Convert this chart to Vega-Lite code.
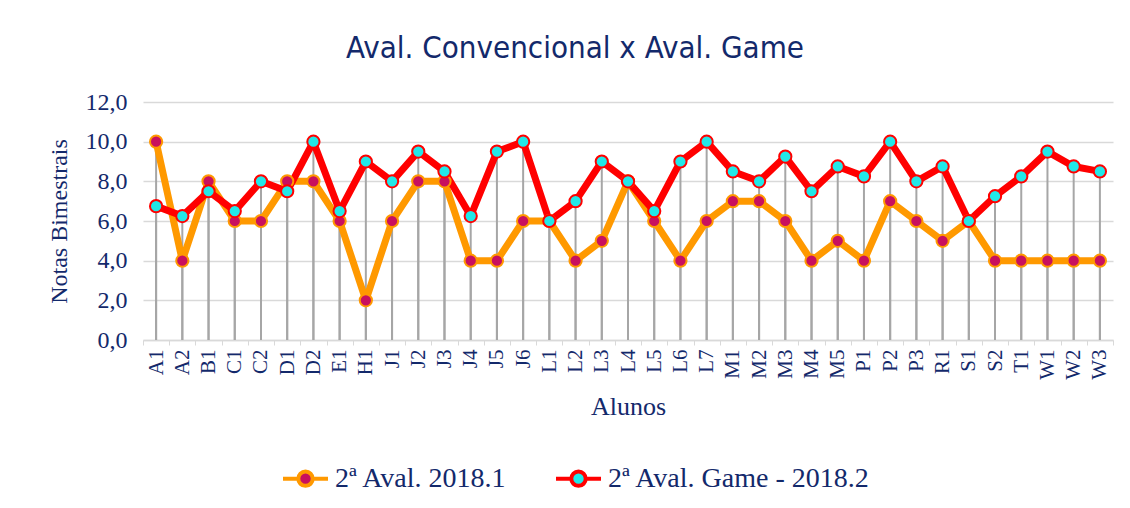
{
  "$schema": "https://vega.github.io/schema/vega-lite/v6.json",
  "width": 970,
  "height": 238,
  "autosize": {"type": "none"},
  "padding": {"left": 143, "top": 102, "right": 17, "bottom": 168},
  "background": "white",
  "title": {"text": "Aval. Convencional x Aval. Game", "font": "DejaVu Sans Condensed", "fontSize": 31, "fontWeight": "normal", "color": "#13296B", "anchor": "middle", "offset": 25, "dx": -53},
  "datasets": {
    "notas": [
      {"aluno": "A1", "serie": "2ª Aval. 2018.1", "nota": 10},
      {"aluno": "A2", "serie": "2ª Aval. 2018.1", "nota": 4},
      {"aluno": "B1", "serie": "2ª Aval. 2018.1", "nota": 8},
      {"aluno": "C1", "serie": "2ª Aval. 2018.1", "nota": 6},
      {"aluno": "C2", "serie": "2ª Aval. 2018.1", "nota": 6},
      {"aluno": "D1", "serie": "2ª Aval. 2018.1", "nota": 8},
      {"aluno": "D2", "serie": "2ª Aval. 2018.1", "nota": 8},
      {"aluno": "E1", "serie": "2ª Aval. 2018.1", "nota": 6},
      {"aluno": "H1", "serie": "2ª Aval. 2018.1", "nota": 2},
      {"aluno": "J1", "serie": "2ª Aval. 2018.1", "nota": 6},
      {"aluno": "J2", "serie": "2ª Aval. 2018.1", "nota": 8},
      {"aluno": "J3", "serie": "2ª Aval. 2018.1", "nota": 8},
      {"aluno": "J4", "serie": "2ª Aval. 2018.1", "nota": 4},
      {"aluno": "J5", "serie": "2ª Aval. 2018.1", "nota": 4},
      {"aluno": "J6", "serie": "2ª Aval. 2018.1", "nota": 6},
      {"aluno": "L1", "serie": "2ª Aval. 2018.1", "nota": 6},
      {"aluno": "L2", "serie": "2ª Aval. 2018.1", "nota": 4},
      {"aluno": "L3", "serie": "2ª Aval. 2018.1", "nota": 5},
      {"aluno": "L4", "serie": "2ª Aval. 2018.1", "nota": 8},
      {"aluno": "L5", "serie": "2ª Aval. 2018.1", "nota": 6},
      {"aluno": "L6", "serie": "2ª Aval. 2018.1", "nota": 4},
      {"aluno": "L7", "serie": "2ª Aval. 2018.1", "nota": 6},
      {"aluno": "M1", "serie": "2ª Aval. 2018.1", "nota": 7},
      {"aluno": "M2", "serie": "2ª Aval. 2018.1", "nota": 7},
      {"aluno": "M3", "serie": "2ª Aval. 2018.1", "nota": 6},
      {"aluno": "M4", "serie": "2ª Aval. 2018.1", "nota": 4},
      {"aluno": "M5", "serie": "2ª Aval. 2018.1", "nota": 5},
      {"aluno": "P1", "serie": "2ª Aval. 2018.1", "nota": 4},
      {"aluno": "P2", "serie": "2ª Aval. 2018.1", "nota": 7},
      {"aluno": "P3", "serie": "2ª Aval. 2018.1", "nota": 6},
      {"aluno": "R1", "serie": "2ª Aval. 2018.1", "nota": 5},
      {"aluno": "S1", "serie": "2ª Aval. 2018.1", "nota": 6},
      {"aluno": "S2", "serie": "2ª Aval. 2018.1", "nota": 4},
      {"aluno": "T1", "serie": "2ª Aval. 2018.1", "nota": 4},
      {"aluno": "W1", "serie": "2ª Aval. 2018.1", "nota": 4},
      {"aluno": "W2", "serie": "2ª Aval. 2018.1", "nota": 4},
      {"aluno": "W3", "serie": "2ª Aval. 2018.1", "nota": 4},
      {"aluno": "A1", "serie": "2ª Aval. Game - 2018.2", "nota": 6.75},
      {"aluno": "A2", "serie": "2ª Aval. Game - 2018.2", "nota": 6.25},
      {"aluno": "B1", "serie": "2ª Aval. Game - 2018.2", "nota": 7.5},
      {"aluno": "C1", "serie": "2ª Aval. Game - 2018.2", "nota": 6.5},
      {"aluno": "C2", "serie": "2ª Aval. Game - 2018.2", "nota": 8},
      {"aluno": "D1", "serie": "2ª Aval. Game - 2018.2", "nota": 7.5},
      {"aluno": "D2", "serie": "2ª Aval. Game - 2018.2", "nota": 10},
      {"aluno": "E1", "serie": "2ª Aval. Game - 2018.2", "nota": 6.5},
      {"aluno": "H1", "serie": "2ª Aval. Game - 2018.2", "nota": 9},
      {"aluno": "J1", "serie": "2ª Aval. Game - 2018.2", "nota": 8},
      {"aluno": "J2", "serie": "2ª Aval. Game - 2018.2", "nota": 9.5},
      {"aluno": "J3", "serie": "2ª Aval. Game - 2018.2", "nota": 8.5},
      {"aluno": "J4", "serie": "2ª Aval. Game - 2018.2", "nota": 6.25},
      {"aluno": "J5", "serie": "2ª Aval. Game - 2018.2", "nota": 9.5},
      {"aluno": "J6", "serie": "2ª Aval. Game - 2018.2", "nota": 10},
      {"aluno": "L1", "serie": "2ª Aval. Game - 2018.2", "nota": 6},
      {"aluno": "L2", "serie": "2ª Aval. Game - 2018.2", "nota": 7},
      {"aluno": "L3", "serie": "2ª Aval. Game - 2018.2", "nota": 9},
      {"aluno": "L4", "serie": "2ª Aval. Game - 2018.2", "nota": 8},
      {"aluno": "L5", "serie": "2ª Aval. Game - 2018.2", "nota": 6.5},
      {"aluno": "L6", "serie": "2ª Aval. Game - 2018.2", "nota": 9},
      {"aluno": "L7", "serie": "2ª Aval. Game - 2018.2", "nota": 10},
      {"aluno": "M1", "serie": "2ª Aval. Game - 2018.2", "nota": 8.5},
      {"aluno": "M2", "serie": "2ª Aval. Game - 2018.2", "nota": 8},
      {"aluno": "M3", "serie": "2ª Aval. Game - 2018.2", "nota": 9.25},
      {"aluno": "M4", "serie": "2ª Aval. Game - 2018.2", "nota": 7.5},
      {"aluno": "M5", "serie": "2ª Aval. Game - 2018.2", "nota": 8.75},
      {"aluno": "P1", "serie": "2ª Aval. Game - 2018.2", "nota": 8.25},
      {"aluno": "P2", "serie": "2ª Aval. Game - 2018.2", "nota": 10},
      {"aluno": "P3", "serie": "2ª Aval. Game - 2018.2", "nota": 8},
      {"aluno": "R1", "serie": "2ª Aval. Game - 2018.2", "nota": 8.75},
      {"aluno": "S1", "serie": "2ª Aval. Game - 2018.2", "nota": 6},
      {"aluno": "S2", "serie": "2ª Aval. Game - 2018.2", "nota": 7.25},
      {"aluno": "T1", "serie": "2ª Aval. Game - 2018.2", "nota": 8.25},
      {"aluno": "W1", "serie": "2ª Aval. Game - 2018.2", "nota": 9.5},
      {"aluno": "W2", "serie": "2ª Aval. Game - 2018.2", "nota": 8.75},
      {"aluno": "W3", "serie": "2ª Aval. Game - 2018.2", "nota": 8.5}
    ]
  },
  "data": {"name": "notas"},
  "encoding": {
    "x": {
      "field": "aluno", "type": "nominal", "sort": null,
      "scale": {"type": "band", "paddingInner": 0, "paddingOuter": 0},
      "axis": {
        "title": "Alunos", "labelAngle": -90, "labelFont": "Liberation Serif", "labelFontSize": 21, "labelColor": "#13296B",
        "titleFont": "Liberation Serif", "titleFontSize": 26, "titleFontWeight": "normal", "titleColor": "#13296B",
        "grid": false, "domainColor": "#D9D9D9", "domainWidth": 1.5, "ticks": true, "tickColor": "#D9D9D9", "tickSize": 5,
        "tickBand": "extent", "labelPadding": 4, "titlePadding": 14
      }
    },
    "y": {
      "field": "nota", "type": "quantitative",
      "scale": {"domain": [0, 12], "nice": false},
      "axis": {
        "title": "Notas Bimestrais", "values": [0, 2, 4, 6, 8, 10, 12],
        "labelExpr": "replace(format(datum.value, '.1f'), '.', ',')",
        "labelFont": "Liberation Serif", "labelFontSize": 24, "labelColor": "#13296B", "labelPadding": 16,
        "titleFont": "Liberation Serif", "titleFontSize": 24, "titleFontWeight": "normal", "titleColor": "#13296B", "titlePadding": 14,
        "grid": true, "gridColor": "#D9D9D9", "gridWidth": 1.5, "domain": false, "ticks": false
      }
    }
  },
  "layer": [
    {"mark": {"type": "rule", "color": "#A6A6A6", "strokeWidth": 2}, "encoding": {"y2": {"datum": 0}}},
    {
      "transform": [{"filter": "datum.serie == '2ª Aval. 2018.1'"}],
      "mark": {"type": "line", "strokeWidth": 7, "strokeJoin": "round"},
      "encoding": {
        "stroke": {"field": "serie", "type": "nominal", "scale": {"domain": ["2ª Aval. 2018.1", "2ª Aval. Game - 2018.2"], "range": ["#FF9900", "#FF0000"]},
          "legend": {"title": null, "orient": "none", "legendX": 138, "legendY": 352, "direction": "horizontal"}}
      }
    },
    {
      "transform": [{"filter": "datum.serie == '2ª Aval. Game - 2018.2'"}],
      "mark": {"type": "line", "strokeWidth": 7, "strokeJoin": "round"},
      "encoding": {
        "stroke": {"field": "serie", "type": "nominal", "scale": {"domain": ["2ª Aval. 2018.1", "2ª Aval. Game - 2018.2"], "range": ["#FF9900", "#FF0000"]},
          "legend": {"title": null, "orient": "none", "legendX": 138, "legendY": 352, "direction": "horizontal"}}
      }
    },
    {
      "mark": {"type": "point", "filled": true, "size": 150, "strokeWidth": 2, "opacity": 1, "fillOpacity": 1},
      "encoding": {
        "stroke": {"field": "serie", "type": "nominal", "scale": {"domain": ["2ª Aval. 2018.1", "2ª Aval. Game - 2018.2"], "range": ["#FF9900", "#FF0000"]},
          "legend": {"title": null, "orient": "none", "legendX": 138, "legendY": 352, "direction": "horizontal"}},
        "fill": {"field": "serie", "type": "nominal", "scale": {"domain": ["2ª Aval. 2018.1", "2ª Aval. Game - 2018.2"], "range": ["#C8105E", "#22E8E8"]},
          "legend": {"title": null, "orient": "none", "legendX": 138, "legendY": 352, "direction": "horizontal"}}
      }
    }
  ],
  "config": {
    "font": "Liberation Serif",
    "view": {"stroke": null},
    "legend": {
      "symbolType": "M-1,0H-0.32M0.32,0H1M0.32,0A0.32,0.32,0,1,1,-0.32,0A0.32,0.32,0,1,1,0.32,0Z",
      "symbolSize": 2025, "symbolStrokeWidth": 4, "symbolOpacity": 1,
      "labelFont": "Liberation Serif", "labelFontSize": 28, "labelColor": "#13296B", "labelOffset": 5,
      "columnPadding": 40, "labelLimit": 400
    }
  }
}
